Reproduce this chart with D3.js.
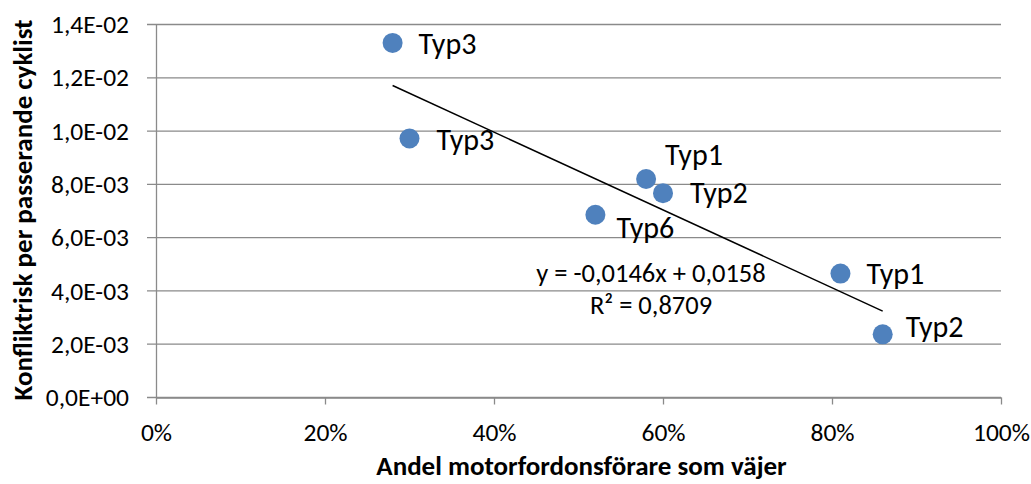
<!DOCTYPE html>
<html>
<head>
<meta charset="utf-8">
<script src="https://cdn.jsdelivr.net/npm/d3@7"></script>
<style>
  html, body { margin: 0; padding: 0; background: #fff; }
  svg { display: block; font-family: Carlito, Calibri, Lato, "Open Sans", sans-serif; }
</style>
</head>
<body>
<svg id="chart" width="1031" height="484"></svg>
<script>
// Share of motorists yielding vs. conflict risk per passing cyclist
const typeLabels = ["Typ3", "Typ3", "Typ1", "Typ2", "Typ6", "Typ1", "Typ2"];
const yieldShare = [0.28, 0.30, 0.58, 0.60, 0.52, 0.81, 0.86];
const conflictRisk = [0.01331, 0.00972, 0.00820, 0.00767, 0.00686, 0.00465, 0.00237];

// Linear trendline (as reported): y = slope * x + intercept
const trendSlope = -0.0146;
const trendIntercept = 0.0158;
const trendText = ["y = -0,0146x + 0,0158", "R² = 0,8709"];

const xTicks = [0, 0.2, 0.4, 0.6, 0.8, 1.0];
const xTickLabels = ["0%", "20%", "40%", "60%", "80%", "100%"];
const yTicks = [0, 0.002, 0.004, 0.006, 0.008, 0.010, 0.012, 0.014];
const yTickLabels = ["0,0E+00", "2,0E-03", "4,0E-03", "6,0E-03", "8,0E-03", "1,0E-02", "1,2E-02", "1,4E-02"];

// label placement relative to each point (px; x to text start, y to baseline)
const labelShift = [[26, 11], [27, 11], [19, -14], [27, 10], [21, 23], [26, 10], [23, 3]];

const FONT = "Carlito, Calibri, Lato, 'Open Sans', sans-serif";
const svg = d3.select("#chart");
const plot = { left: 156, right: 1001, top: 24.5, bottom: 397.5 };

const x = d3.scaleLinear().domain([0, 1]).range([plot.left, plot.right]);
const y = d3.scaleLinear().domain([0, 0.014]).range([plot.bottom, plot.top]);

// horizontal gridlines (with short tick stubs left of the axis)
svg.append("g")
  .selectAll("line")
  .data(yTicks)
  .join("line")
  .attr("x1", plot.left - 9)
  .attr("x2", plot.right)
  .attr("y1", d => y(d))
  .attr("y2", d => y(d))
  .attr("stroke", "#8a8a8a")
  .attr("stroke-width", 1.3);

// y axis labels
const yAxis = d3.axisLeft(y)
  .tickValues(yTicks)
  .tickFormat((d, i) => yTickLabels[i])
  .tickSize(0)
  .tickPadding(27);
const gy = svg.append("g").attr("transform", `translate(${plot.left},0)`).call(yAxis);
gy.select(".domain").attr("stroke", "#8a8a8a").attr("stroke-width", 1.3);
gy.selectAll("text").attr("font-size", 25.5).attr("fill", "#000").attr("font-family", FONT);

// x axis
const xAxis = d3.axisBottom(x)
  .tickValues(xTicks)
  .tickFormat((d, i) => xTickLabels[i])
  .tickSize(7)
  .tickSizeOuter(0);
const gx = svg.append("g").attr("transform", `translate(0,${plot.bottom})`).call(xAxis);
gx.select(".domain").attr("stroke", "#8a8a8a").attr("stroke-width", 1.3);
gx.selectAll(".tick line").attr("stroke", "#8a8a8a").attr("stroke-width", 1.3);
gx.selectAll("text")
  .attr("y", 43.5).attr("dy", null)
  .attr("font-size", 25.5).attr("fill", "#000").attr("font-family", FONT);

// trendline over the range of the data
const xMin = d3.min(yieldShare), xMax = d3.max(yieldShare);
svg.append("line")
  .attr("x1", x(xMin)).attr("y1", y(trendSlope * xMin + trendIntercept))
  .attr("x2", x(xMax)).attr("y2", y(trendSlope * xMax + trendIntercept))
  .attr("stroke", "#000").attr("stroke-width", 1.5);

// points
const pts = yieldShare.map((v, i) => ({ x: v, y: conflictRisk[i], label: typeLabels[i], shift: labelShift[i] }));
svg.append("g")
  .selectAll("circle")
  .data(pts)
  .join("circle")
  .attr("cx", d => x(d.x))
  .attr("cy", d => y(d.y))
  .attr("r", 10)
  .attr("fill", "#4f81bd");

// point labels
svg.append("g")
  .selectAll("text")
  .data(pts)
  .join("text")
  .attr("x", d => x(d.x) + d.shift[0])
  .attr("y", d => y(d.y) + d.shift[1])
  .attr("font-size", 30)
  .attr("fill", "#000")
  .text(d => d.label);

// trendline equation
svg.append("g")
  .selectAll("text")
  .data(trendText)
  .join("text")
  .attr("x", 651)
  .attr("y", (d, i) => 281.5 + i * 32.5)
  .attr("text-anchor", "middle")
  .attr("font-size", 26.5)
  .attr("fill", "#000")
  .text(d => d);

// axis titles
svg.append("text")
  .attr("x", 581.5)
  .attr("y", 475)
  .attr("text-anchor", "middle")
  .attr("font-size", 27)
  .attr("font-weight", "bold")
  .attr("fill", "#000")
  .text("Andel motorfordonsförare som väjer");

svg.append("text")
  .attr("transform", `translate(32,${(plot.top + plot.bottom) / 2 - 1}) rotate(-90)`)
  .attr("text-anchor", "middle")
  .attr("font-size", 27)
  .attr("font-weight", "bold")
  .attr("fill", "#000")
  .text("Konfliktrisk per passerande cyklist");
</script>
</body>
</html>
